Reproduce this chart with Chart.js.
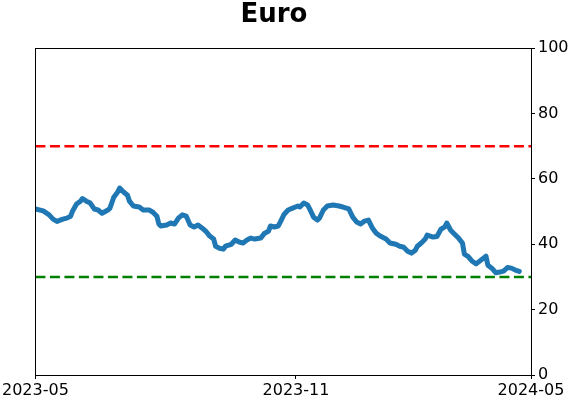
<!DOCTYPE html>
<html>
<head>
<meta charset="utf-8">
<script src="https://cdn.jsdelivr.net/npm/chart.js@4"></script>
<style>
  html, body { margin: 0; padding: 0; background: #fff; }
  #wrap { width: 571px; height: 402px; }
</style>
</head>
<body>
<div id="wrap"><canvas id="chart"></canvas></div>
<script>
// trading-day index (0 = 2023-05, 253 = 2024-05) and indicator values
const dayIdx = [0, 4, 7, 9, 11, 14, 16, 18, 19, 21, 23, 24, 26, 28, 30, 32, 34, 37, 38, 40,
    42, 43, 45, 47, 48, 50, 53, 55, 58, 60, 62, 63, 64, 67, 69, 71, 73, 75, 77, 79,
    81, 83, 85, 87, 89, 91, 92, 94, 96, 97, 100, 102, 104, 106, 108, 110, 112, 115, 117, 119,
    120, 122, 124, 125, 127, 129, 131, 134, 135, 137, 139, 140, 142, 144, 145, 147, 149, 152, 155, 157,
    160, 162, 164, 166, 168, 170, 172, 174, 176, 179, 181, 184, 186, 188, 190, 192, 194, 195, 197, 199,
    200, 203, 205, 207, 209, 210, 212, 214, 216, 218, 219, 221, 223, 225, 228, 230, 231, 233, 235, 237,
    239, 241, 243, 245, 247];
const euroVals = [50.8, 50.2, 49.0, 47.7, 47.0, 47.7, 48.0, 48.6, 50.2, 52.3, 53.2, 54.0, 53.2, 52.6, 50.8, 50.5, 49.5, 50.5, 51.0, 54.4,
    56.0, 57.2, 56.0, 55.0, 53.2, 51.7, 51.4, 50.5, 50.5, 49.8, 48.6, 46.2, 45.6, 45.9, 46.5, 46.2, 48.0, 49.0, 48.6, 45.9,
    45.3, 45.9, 45.0, 44.0, 42.5, 41.6, 39.4, 38.8, 38.5, 39.4, 40.0, 41.3, 40.7, 40.4, 41.3, 41.9, 41.6, 41.9, 43.4, 44.0,
    45.6, 45.3, 45.6, 46.8, 49.2, 50.5, 51.0, 51.7, 51.4, 52.6, 52.0, 50.8, 48.3, 47.4, 48.0, 50.5, 51.7, 52.0, 51.7, 51.4,
    50.8, 48.3, 46.8, 46.2, 47.1, 47.4, 45.0, 43.4, 42.5, 41.6, 40.4, 40.0, 39.4, 39.1, 37.9, 37.3, 38.2, 39.4, 40.4, 41.6,
    42.8, 42.2, 42.4, 44.6, 45.3, 46.5, 44.3, 43.1, 41.9, 40.4, 37.0, 36.2, 34.8, 34.0, 35.4, 36.4, 33.6, 32.7, 31.3, 31.5,
    31.8, 32.9, 32.7, 32.1, 31.7];
const xTickIdx = [0, 133, 253];
const xTickLabels = ['2023-05', '2023-11', '2024-05'];
const upperBand = 70;
const lowerBand = 30;

const FONT = 'DejaVu Sans';
const xMax = xTickIdx[xTickIdx.length - 1];

// full frame round the plot; title box narrowed so "Euro" sits where the original has it
const boxPlugin = {
    id: 'box',
    afterLayout(chart) {
        if (chart.titleBlock) chart.titleBlock.right -= 23;
    },
    afterDatasetsDraw(chart) {
        const a = chart.chartArea, ctx = chart.ctx;
        ctx.save();
        ctx.strokeStyle = '#000';
        ctx.lineWidth = 1;
        ctx.strokeRect(Math.round(a.left) + 0.5, Math.round(a.top) + 0.5,
            Math.round(a.right - a.left), Math.round(a.bottom - a.top));
        ctx.restore();
    }
};

new Chart(document.getElementById('chart'), {
    type: 'line',
    data: {
        datasets: [
            {
                data: dayIdx.map((d, i) => ({ x: d, y: euroVals[i] })),
                borderColor: '#1f77b4',
                borderWidth: 5,
                pointRadius: 0,
                tension: 0,
                borderJoinStyle: 'round',
                borderCapStyle: 'round'
            },
            {
                data: [{ x: 0, y: upperBand }, { x: xMax, y: upperBand }],
                borderColor: '#ff0000',
                borderWidth: 2.5,
                borderDash: [10, 4.5],
                pointRadius: 0
            },
            {
                data: [{ x: 0, y: lowerBand }, { x: xMax, y: lowerBand }],
                borderColor: '#008000',
                borderWidth: 2.5,
                borderDash: [10, 4.5],
                pointRadius: 0
            }
        ]
    },
    options: {
        responsive: true,
        maintainAspectRatio: false,
        animation: false,
        layout: { padding: 0 },
        plugins: {
            legend: { display: false },
            tooltip: { enabled: false },
            title: {
                display: true,
                text: 'Euro',
                color: '#000',
                font: { family: FONT, size: 26, weight: 'bold' },
                padding: { top: 0, bottom: 17 }
            }
        },
        scales: {
            x: {
                type: 'linear',
                min: 0,
                max: xMax,
                grid: { display: true, drawOnChartArea: false, drawTicks: true, tickLength: 4, color: '#000' },
                border: { display: true, color: '#000' },
                afterBuildTicks: s => { s.ticks = xTickIdx.map(v => ({ value: v })); },
                afterFit: s => { s.height = 27; },
                ticks: {
                    autoSkip: false,
                    maxRotation: 0,
                    padding: 2,
                    color: '#000',
                    font: { family: FONT, size: 16 },
                    callback: v => xTickLabels[xTickIdx.indexOf(v)]
                }
            },
            yl: {
                position: 'left',
                min: 0,
                max: 100,
                grid: { display: false },
                border: { display: true, color: '#000' },
                ticks: { display: false },
                afterFit: s => { s.width = 35; }
            },
            y: {
                position: 'right',
                min: 0,
                max: 100,
                grid: { display: true, drawOnChartArea: false, drawTicks: true, tickLength: 4, color: '#000' },
                border: { display: true, color: '#000' },
                afterFit: s => { s.width = 40; },
                ticks: {
                    stepSize: 20,
                    padding: 3,
                    color: '#000',
                    font: { family: FONT, size: 16 }
                }
            }
        }
    },
    plugins: [boxPlugin]
});
</script>
</body>
</html>
